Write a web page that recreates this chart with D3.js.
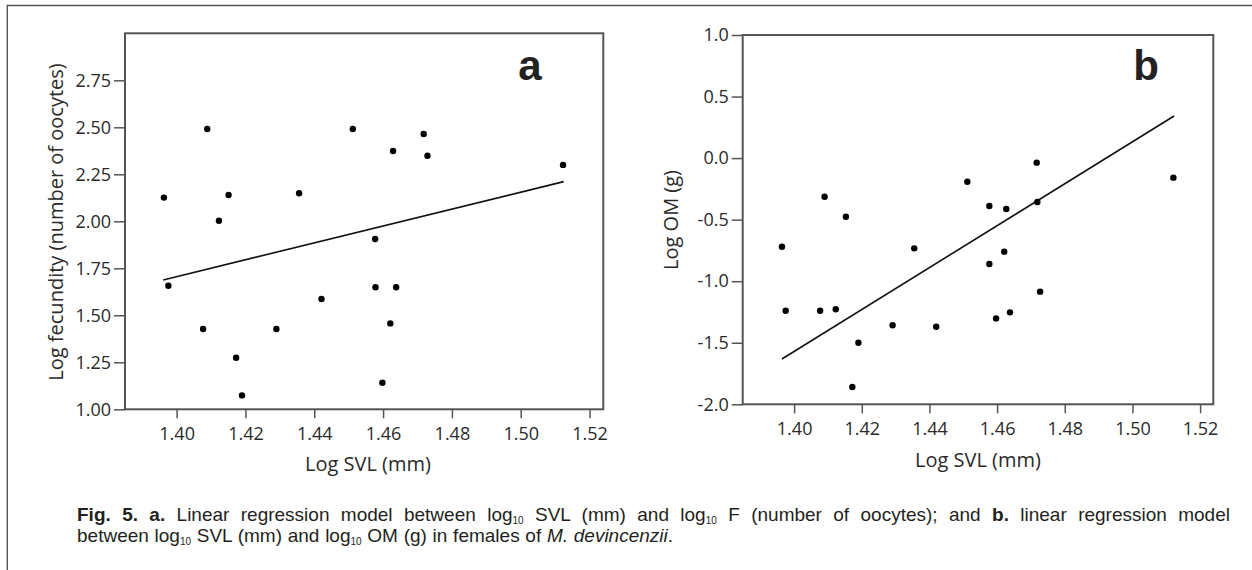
<!DOCTYPE html>
<html>
<head>
<meta charset="utf-8">
<script src="https://cdn.jsdelivr.net/npm/d3@7"></script>
<style>
  html, body { margin: 0; padding: 0; background: #fff; }
  svg { display: block; }
  .tick text { font-family: "Open Sans", sans-serif; font-size: 18px; fill: #2a2a2a; }
</style>
</head>
<body>
<svg id="chart" width="1252" height="570"></svg>
<script>
// ---------- data ----------
const xTickValues = [1.40, 1.42, 1.44, 1.46, 1.48, 1.50, 1.52];
const yTickValuesA = [1.00, 1.25, 1.50, 1.75, 2.00, 2.25, 2.50, 2.75];
const yTickValuesB = [-2.0, -1.5, -1.0, -0.5, 0.0, 0.5, 1.0];

// panel a: log SVL vs log fecundity
const svlA = [1.3963, 1.4089, 1.4151, 1.4123, 1.4356, 1.4512, 1.4629, 1.4577, 1.4718, 1.4729, 1.5123,
              1.3976, 1.4077, 1.4173, 1.4190, 1.4290, 1.4421, 1.4578, 1.4638, 1.4621, 1.4598];
const fecA = [2.126, 2.491, 2.140, 2.003, 2.149, 2.491, 2.374, 1.906, 2.464, 2.349, 2.300,
              1.657, 1.427, 1.274, 1.074, 1.427, 1.587, 1.649, 1.649, 1.457, 1.141];
const fitSvlA = [1.3961, 1.5125];
const fitFecA = [1.688, 2.211];

// panel b: log SVL vs log OM
const svlB = [1.4090, 1.4153, 1.4512, 1.4577, 1.4627, 1.4717, 1.4719, 1.3964, 1.4355, 1.5121, 1.4621,
              1.4727, 1.4638, 1.4577, 1.3975, 1.4077, 1.4123, 1.4190, 1.4172, 1.4291, 1.4420, 1.4597];
const omB  = [-0.314, -0.476, -0.192, -0.389, -0.413, -0.037, -0.357, -0.720, -0.733, -0.159, -0.760,
              -1.085, -1.253, -0.860, -1.240, -1.240, -1.228, -1.500, -1.859, -1.358, -1.370, -1.302];
const fitSvlB = [1.3964, 1.5123];
const fitOmB  = [-1.632, 0.342];

// ---------- drawing ----------
const svg = d3.select("#chart");
svg.append("rect").attr("width", 1252).attr("height", 570).attr("fill", "#fff");

// outer figure frame (top and left)
svg.append("path")
  .attr("d", "M7.3,570 V5.5 H1252")
  .attr("fill", "none").attr("stroke", "#555").attr("stroke-width", 1.4);

const boxColor = "#555";

function panel(opt) {
  const x = d3.scaleLinear().domain(opt.xDomain).range([opt.left, opt.right]);
  const y = d3.scaleLinear().domain(opt.yDomain).range([opt.bottom, opt.top]);
  const g = svg.append("g");

  // box
  g.append("rect")
    .attr("x", opt.left).attr("y", opt.top)
    .attr("width", opt.right - opt.left).attr("height", opt.bottom - opt.top)
    .attr("fill", "none").attr("stroke", boxColor).attr("stroke-width", 2);

  // axes
  const xAxis = d3.axisBottom(x).tickValues(xTickValues)
    .tickFormat(d => d.toFixed(2)).tickSize(9).tickPadding(9);
  const gx = g.append("g").attr("transform", `translate(0,${opt.bottom})`).call(xAxis);
  gx.select(".domain").remove();
  gx.selectAll(".tick line").attr("stroke", boxColor).attr("stroke-width", 1.5);

  const yAxis = d3.axisLeft(y).tickValues(opt.yTicks)
    .tickFormat(opt.yFormat).tickSize(11).tickPadding(3);
  const gy = g.append("g").attr("transform", `translate(${opt.left},0)`).call(yAxis);
  gy.select(".domain").remove();
  gy.selectAll(".tick line").attr("stroke", boxColor).attr("stroke-width", 1.5);

  // regression line
  g.append("line")
    .attr("x1", x(opt.fitX[0])).attr("y1", y(opt.fitY[0]))
    .attr("x2", x(opt.fitX[1])).attr("y2", y(opt.fitY[1]))
    .attr("stroke", "#111").attr("stroke-width", 1.6);

  // points
  const pts = opt.xs.map((v, i) => [v, opt.ys[i]]);
  g.selectAll("circle.pt").data(pts).enter().append("circle")
    .attr("class", "pt")
    .attr("cx", d => x(d[0])).attr("cy", d => y(d[1]))
    .attr("r", 3.2).attr("fill", "#000");

  // axis titles
  g.append("text")
    .attr("x", opt.xTitleX).attr("y", opt.xTitleY)
    .attr("text-anchor", "middle")
    .attr("font-family", "'Open Sans', sans-serif").attr("font-size", 20).attr("fill", "#2a2a2a")
    .text("Log SVL (mm)");
  g.append("text")
    .attr("transform", `translate(${opt.yTitleX},${opt.yTitleY}) rotate(-90)`)
    .attr("text-anchor", "middle").attr("dominant-baseline", "central")
    .attr("font-family", "'Open Sans', sans-serif").attr("font-size", 20).attr("fill", "#2a2a2a")
    .text(opt.yTitle);

  // panel letter
  g.append("text")
    .attr("x", opt.letterX).attr("y", 80)
    .attr("text-anchor", "middle")
    .attr("font-family", "'Liberation Sans', Arial, sans-serif").attr("font-weight", "bold")
    .attr("font-size", 42).attr("fill", "#222")
    .text(opt.letter);
}

panel({
  left: 125, right: 603.3, top: 33.3, bottom: 409.3,
  xDomain: [1.385, 1.524], yDomain: [1, 3],
  yTicks: yTickValuesA, yFormat: d => d.toFixed(2),
  xs: svlA, ys: fecA, fitX: fitSvlA, fitY: fitFecA,
  xTitleX: 368, xTitleY: 471,
  yTitle: "Log fecundity (number of oocytes)", yTitleX: 55, yTitleY: 222,
  letter: "a", letterX: 530
});

panel({
  left: 742.7, right: 1213.3, top: 35, bottom: 404.3,
  xDomain: [1.3848, 1.5239], yDomain: [-2, 1],
  yTicks: yTickValuesB, yFormat: d => d.toFixed(1),
  xs: svlB, ys: omB, fitX: fitSvlB, fitY: fitOmB,
  xTitleX: 978, xTitleY: 467,
  yTitle: "Log OM (g)", yTitleX: 670, yTitleY: 220,
  letter: "b", letterX: 1146
});

// ---------- caption ----------
const captionLines = [
  { y: 521, width: 1153, segs: [
    { t: "Fig. 5. a.", b: true }, { t: " Linear regression model between log" }, { t: "10", sub: true },
    { t: " SVL (mm) and log" }, { t: "10", sub: true }, { t: " F (number of oocytes); and " },
    { t: "b.", b: true }, { t: " linear regression model" } ] },
  { y: 542, width: 596, segs: [
    { t: "between log" }, { t: "10", sub: true }, { t: " SVL (mm) and log" }, { t: "10", sub: true },
    { t: " OM (g) in females of " }, { t: "M. devincenzii", i: true }, { t: "." } ] }
];

captionLines.forEach(line => {
  const txt = svg.append("text")
    .attr("x", 77).attr("y", line.y)
    .attr("font-family", "'Liberation Sans', Arial, sans-serif")
    .attr("font-size", 19).attr("fill", "#231f20");
  let shifted = false;
  line.segs.forEach(s => {
    const ts = txt.append("tspan").text(s.t);
    if (s.b) ts.attr("font-weight", "bold");
    if (s.i) ts.attr("font-style", "italic");
    if (s.sub) { ts.attr("font-size", 10).attr("dy", 3); shifted = true; }
    else if (shifted) { ts.attr("dy", -3); shifted = false; }
  });
  const len = txt.node().getComputedTextLength();
  const nSpaces = line.segs.map(s => s.t).join("").split(" ").length - 1;
  txt.attr("word-spacing", ((line.width - len) / nSpaces).toFixed(2) + "px");
});
</script>
</body>
</html>
